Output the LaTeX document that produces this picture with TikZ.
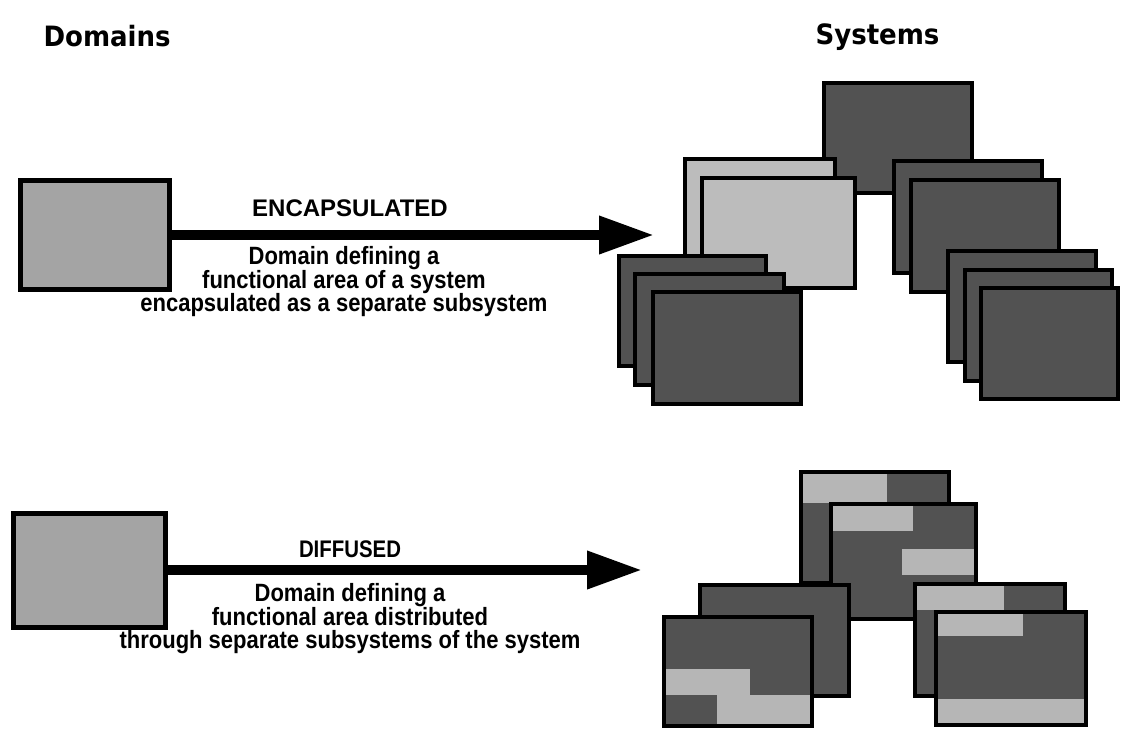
\documentclass[tikz,border=0pt]{standalone}
\usepackage{fontspec}
\setmainfont{Liberation Sans}
\newfontfamily\headfont[FakeStretch=0.93]{DejaVu Sans}
\newfontfamily\descfont[FakeStretch=0.88]{Liberation Sans}
\newfontfamily\narrowfont[FakeStretch=0.85]{Liberation Sans}
\usetikzlibrary{arrows.meta}
\definecolor{domfill}{HTML}{A4A4A4}
\definecolor{darkfill}{HTML}{525252}
\definecolor{lightfill}{HTML}{BCBCBC}
\definecolor{stripfill}{HTML}{B6B6B6}
\begin{document}
\begin{tikzpicture}[x=1pt,y=-1pt,
  sysline/.style={draw=black,line width=4pt},
  dombox/.style={rectangle,draw=black,line width=5pt,fill=domfill,inner sep=0pt},
  flow/.style={line width=10pt,-{Triangle[length=55pt,width=36pt]}},
  lbltxt/.style={font=\fontsize{24}{26}\selectfont\bfseries},
  desctxt/.style={font=\descfont\fontsize{25}{23.5}\selectfont\bfseries,align=center},
  headtxt/.style={font=\headfont\fontsize{28}{30}\selectfont\bfseries}]
\useasboundingbox (0,0) rectangle (1122,729);

% headings
\node[headtxt,anchor=base west] (hdDom) at (40,46) {Domains};
\node[headtxt,anchor=base west] (hdSys) at (812,44) {Systems};

% domain boxes
\node[dombox,minimum width=149pt,minimum height=109pt] (dom1) at (95,235) {};
\node[dombox,minimum width=152pt,minimum height=114pt] (dom2) at (89.5,570) {};
\coordinate (tip1) at (654,235);
\coordinate (tip2) at (642,570);
\draw[flow] (dom1.east) -- (tip1);
\draw[flow] (dom2.east) -- (tip2);

\node[lbltxt,anchor=base] (encLbl) at (350,216) {ENCAPSULATED};
\node[desctxt] (encDesc) at (344,282) {Domain defining a\\functional area of a system\\encapsulated as a separate subsystem};
\node[lbltxt,anchor=base,font=\narrowfont\fontsize{24}{26}\selectfont\bfseries] (difLbl) at (350,557) {DIFFUSED};
\node[desctxt] (difDesc) at (350,619) {Domain defining a\\functional area distributed\\through separate subsystems of the system};

% ---------- encapsulated system ----------
\fill[darkfill] (824,83) rectangle (972,193); \draw[sysline] (824,83) rectangle (972,193);
\fill[lightfill] (685,159) rectangle (835,270); \draw[sysline] (685,159) rectangle (835,270);
\fill[lightfill] (702,178) rectangle (855,288); \draw[sysline] (702,178) rectangle (855,288);
\fill[darkfill] (619,256) rectangle (766,366); \draw[sysline] (619,256) rectangle (766,366);
\fill[darkfill] (635,274) rectangle (784,385); \draw[sysline] (635,274) rectangle (784,385);
\fill[darkfill] (653,292) rectangle (801,404); \draw[sysline] (653,292) rectangle (801,404);
\fill[darkfill] (894,161) rectangle (1042,273); \draw[sysline] (894,161) rectangle (1042,273);
\fill[darkfill] (911,180) rectangle (1059,292); \draw[sysline] (911,180) rectangle (1059,292);
\fill[darkfill] (948,251) rectangle (1096,362); \draw[sysline] (948,251) rectangle (1096,362);
\fill[darkfill] (965,270) rectangle (1112,381); \draw[sysline] (965,270) rectangle (1112,381);
\fill[darkfill] (981,288) rectangle (1118,399); \draw[sysline] (981,288) rectangle (1118,399);

% ---------- diffused system ----------
\fill[darkfill] (801,472) rectangle (949,583);
\fill[stripfill] (801,472) rectangle (887,503);
\draw[sysline] (801,472) rectangle (949,583);

\fill[darkfill] (831,504) rectangle (976,619);
\fill[stripfill] (831,504) rectangle (913,531);
\fill[stripfill] (902,549) rectangle (976,575);
\draw[sysline] (831,504) rectangle (976,619);

\fill[darkfill] (700,585) rectangle (849,696);
\draw[sysline] (700,585) rectangle (849,696);

\fill[darkfill] (664,617) rectangle (812,726);
\fill[stripfill] (664,669) rectangle (750,695);
\fill[stripfill] (717,695) rectangle (812,726);
\draw[sysline] (664,617) rectangle (812,726);

\fill[darkfill] (915,584) rectangle (1065,696);
\fill[stripfill] (915,584) rectangle (1004,610);
\draw[sysline] (915,584) rectangle (1065,696);

\fill[darkfill] (936,612) rectangle (1086,725);
\fill[stripfill] (936,612) rectangle (1023,636);
\fill[stripfill] (936,699) rectangle (1086,725);
\draw[sysline] (936,612) rectangle (1086,725);
\end{tikzpicture}
\end{document}
